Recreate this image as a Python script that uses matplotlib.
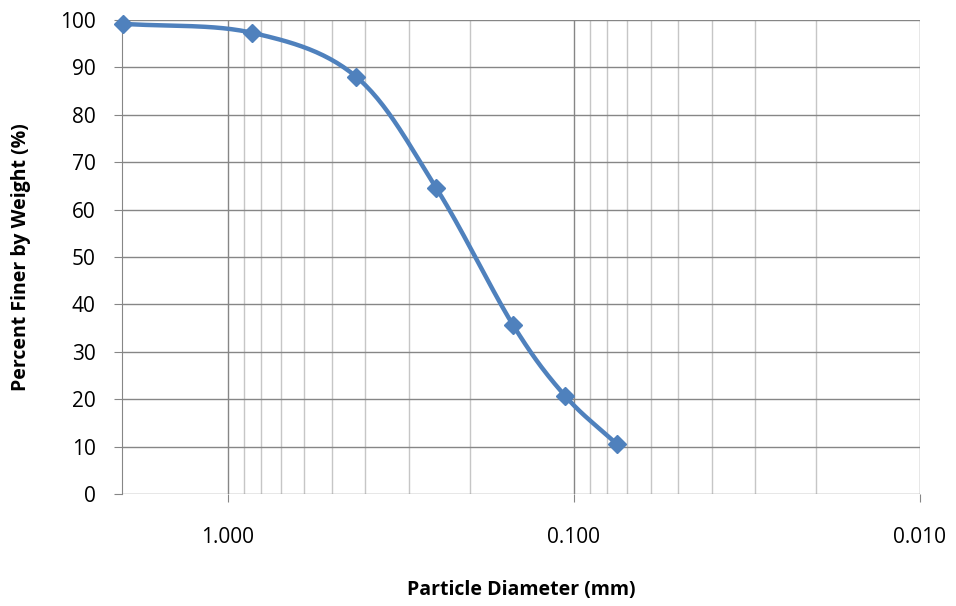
"""
grain size distribution curve
"""
import numpy as np
import matplotlib
matplotlib.use("Agg")
import matplotlib.pyplot as plt
from matplotlib.ticker import FixedLocator, FixedFormatter, NullFormatter

diameter_mm = [2.0, 0.85, 0.425, 0.25, 0.15, 0.106, 0.075]
percent_finer = [99.2, 97.3, 88.0, 64.6, 35.7, 20.7, 10.5]

x_ticks = [1.0, 0.1, 0.01]
x_labels = ["1.000", "0.100", "0.010"]
y_ticks = list(range(0, 101, 10))


def smooth(xs, ys, n=30):
    """
    catmull-rom curve through points (in log x), like excel smoothed line
    """
    lx = np.log10(xs)
    ys = np.asarray(ys, dtype=float)
    px = np.concatenate([[2 * lx[0] - lx[1]], lx, [2 * lx[-1] - lx[-2]]])
    py = np.concatenate([[2 * ys[0] - ys[1]], ys, [2 * ys[-1] - ys[-2]]])
    outx, outy = [], []
    t = np.linspace(0, 1, n)
    for i in range(1, len(px) - 2):
        for arr, out in ((px, outx), (py, outy)):
            p0, p1, p2, p3 = arr[i - 1], arr[i], arr[i + 1], arr[i + 2]
            m1 = (p2 - p0) / 2
            m2 = (p3 - p1) / 2
            h00 = 2 * t**3 - 3 * t**2 + 1
            h10 = t**3 - 2 * t**2 + t
            h01 = -2 * t**3 + 3 * t**2
            h11 = t**3 - t**2
            out.extend(h00 * p1 + h10 * m1 + h01 * p2 + h11 * m2)
    return 10 ** np.array(outx), np.array(outy)


plt.rcParams['font.family'] = ['Open Sans', 'DejaVu Sans']
fig = plt.figure(figsize=(9.56, 6.06), dpi=100)
ax = fig.add_axes([122 / 956, 1 - 494 / 606, (920 - 122) / 956, (494 - 20) / 606])

ax.set_xscale("log")
ax.set_xlim(2.02, 0.01)
ax.set_ylim(0, 100)

minor = [m * 10.0**e for e in (-2, -1) for m in range(2, 10)]
ax.xaxis.set_major_locator(FixedLocator(x_ticks))
ax.xaxis.set_major_formatter(FixedFormatter(x_labels))
ax.xaxis.set_minor_locator(FixedLocator(minor))
ax.xaxis.set_minor_formatter(NullFormatter())
ax.set_yticks(y_ticks)

ax.grid(True, which="major", axis="both", color="#868686", linewidth=1.0)
ax.grid(True, which="minor", axis="x", color="#c6c6c6", linewidth=1.0)
ax.set_axisbelow(True)

for side in ("top", "right", "bottom"):
    ax.spines[side].set_visible(False)
ax.spines["left"].set_color("#868686")
ax.tick_params(axis="both", which="major", length=6, color="#868686",
               labelsize=15, direction="out")
ax.tick_params(axis="x", which="major", pad=17.5)
ax.tick_params(axis="y", which="major", pad=13)
ax.tick_params(axis="x", which="minor", length=0)

sx, sy = smooth(diameter_mm, percent_finer)
ax.plot(sx, sy, color="#4f81bd", linewidth=3.2, zorder=3, clip_on=False)
ax.plot(diameter_mm, percent_finer, linestyle="none", marker="D", markersize=9,
        color="#4f81bd", zorder=4, clip_on=False)

ax.set_xlabel("Particle Diameter (mm)", fontsize=14, fontweight="bold", va="center")
ax.set_ylabel("Percent Finer by Weight (%)", fontsize=14, fontweight="bold", va="center")
ax.xaxis.set_label_coords(0.5, (494 - 590) / 474)
ax.yaxis.set_label_coords((21 - 122) / 798, 0.5)

fig.savefig("out.png", dpi=100)
